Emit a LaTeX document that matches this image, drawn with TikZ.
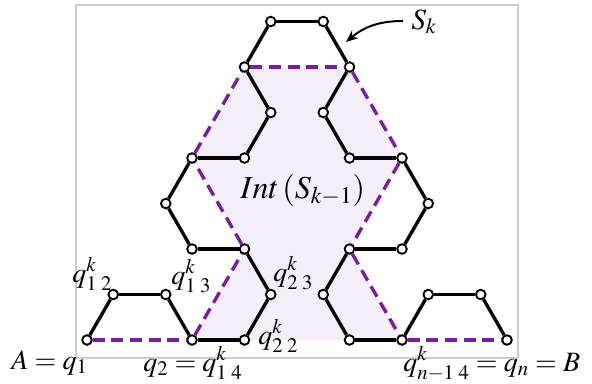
\documentclass[tikz,border=0pt]{standalone}
\usepackage{mathptmx}
\usetikzlibrary{arrows.meta,backgrounds}
\definecolor{dashpurple}{RGB}{120,28,165}
\definecolor{shadepurple}{RGB}{244,238,248}
\definecolor{framegray}{RGB}{205,205,205}
\tikzset{
  vtx/.style={circle,draw=black,fill=white,line width=1.4pt,minimum size=7.2pt,inner sep=0pt},
  curve/.style={line width=2.5pt,black},
  prev/.style={line width=2.5pt,dashpurple,dash pattern=on 9pt off 5pt},
  lab/.style={inner sep=0pt,font=\fontsize{21}{24}\selectfont},
}
\begin{document}
\begin{tikzpicture}[x=0.75pt,y=-0.75pt]
\useasboundingbox (0,0) rectangle (592,383);
% vertices of S_k
\node[vtx] (p1) at (87,340) {};
\node[vtx] (p2) at (113.25,294.5) {};
\node[vtx] (p3) at (165.75,294.5) {};
\node[vtx] (p4) at (192,340) {};
\node[vtx] (p5) at (244.5,340) {};
\node[vtx] (p6) at (270.75,294.5) {};
\node[vtx] (p7) at (244.5,249) {};
\node[vtx] (p8) at (192,249) {};
\node[vtx] (p9) at (165.75,203.5) {};
\node[vtx] (p10) at (192,158) {};
\node[vtx] (p11) at (244.5,158) {};
\node[vtx] (p12) at (270.75,112.5) {};
\node[vtx] (p13) at (244.5,67) {};
\node[vtx] (p14) at (270.75,21.5) {};
\node[vtx] (p15) at (323.25,21.5) {};
\node[vtx] (p16) at (349.5,67) {};
\node[vtx] (p17) at (323.25,112.5) {};
\node[vtx] (p18) at (349.5,158) {};
\node[vtx] (p19) at (402,158) {};
\node[vtx] (p20) at (428.25,203.5) {};
\node[vtx] (p21) at (402,249) {};
\node[vtx] (p22) at (349.5,249) {};
\node[vtx] (p23) at (323.25,294.5) {};
\node[vtx] (p24) at (349.5,340) {};
\node[vtx] (p25) at (402,340) {};
\node[vtx] (p26) at (428.25,294.5) {};
\node[vtx] (p27) at (480.75,294.5) {};
\node[vtx] (p28) at (507,340) {};
\begin{scope}[on background layer]
  \draw[framegray,line width=0.8pt] (76,5) rectangle (518,358);
  \fill[shadepurple] (p4.center) -- (p7.center) -- (p10.center) -- (p13.center) -- (p16.center)
    -- (p19.center) -- (p22.center) -- (p25.center) -- cycle;
\end{scope}
% previous iteration S_{k-1}
\draw[prev] (p1) -- (p4);
\draw[prev] (p4) -- (p7);
\draw[prev] (p7) -- (p10);
\draw[prev] (p10) -- (p13);
\draw[prev] (p13) -- (p16);
\draw[prev] (p16) -- (p19);
\draw[prev] (p19) -- (p22);
\draw[prev] (p22) -- (p25);
\draw[prev] (p25) -- (p28);
% S_k
\foreach \a/\b in {p1/p2,p2/p3,p3/p4,p4/p5,p5/p6,p6/p7,p7/p8,p8/p9,p9/p10,p10/p11,p11/p12,p12/p13,p13/p14,p14/p15,p15/p16,p16/p17,p17/p18,p18/p19,p19/p20,p20/p21,p21/p22,p22/p23,p23/p24,p24/p25,p25/p26,p26/p27,p27/p28}
  \draw[curve] (\a) -- (\b);
% labels
\node[lab,anchor=base west] (lA) at (11,369) {$A=q_1$};
\node[lab,anchor=base west] (lq2) at (143,371) {$q_2=q^{k}_{1\;4}$};
\node[lab,anchor=base west] (lB) at (403,371) {$q^{k}_{n-1\;4}=q_n=B$};
\node[lab,anchor=base west] (l12) at (72,282) {$q^{k}_{1\;2}$};
\node[lab,anchor=base west] (l13) at (171,284) {$q^{k}_{1\;3}$};
\node[lab,anchor=base west] (l23) at (273,281) {$q^{k}_{2\;3}$};
\node[lab,anchor=base west] (l22) at (258,344) {$q^{k}_{2\;2}$};
\node[inner sep=0pt,anchor=base west,font=\fontsize{24}{28}\selectfont] (int) at (240,198) {$Int\left(S_{k-1}\right)$};
\node[inner sep=0pt,anchor=base west,font=\fontsize{22}{26}\selectfont] (sk) at (411,29) {$S_k$};
\coordinate (arrstart) at (403,21);
\coordinate (arrtip) at (346,42);
\draw[line width=1.5pt,-{Stealth[length=9pt,width=7.5pt]}] (arrstart) to[out=180,in=40] (arrtip);
\end{tikzpicture}
\end{document}
